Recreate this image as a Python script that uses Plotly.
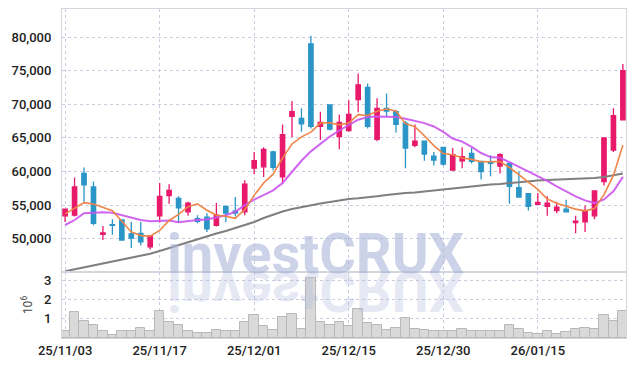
import plotly.graph_objects as go
from plotly.subplots import make_subplots

dates = ["25/11/03", "25/11/04", "25/11/05", "25/11/06", "25/11/07", "25/11/10", "25/11/11", "25/11/12", "25/11/13", "25/11/14",
         "25/11/17", "25/11/18", "25/11/19", "25/11/20", "25/11/21", "25/11/24", "25/11/25", "25/11/26", "25/11/27", "25/11/28",
         "25/12/01", "25/12/02", "25/12/03", "25/12/04", "25/12/05", "25/12/08", "25/12/09", "25/12/10", "25/12/11", "25/12/12",
         "25/12/15", "25/12/16", "25/12/17", "25/12/18", "25/12/19", "25/12/22", "25/12/23", "25/12/24", "25/12/26", "25/12/29",
         "25/12/30", "26/01/02", "26/01/05", "26/01/06", "26/01/07", "26/01/08", "26/01/09", "26/01/12", "26/01/13", "26/01/14",
         "26/01/15", "26/01/16", "26/01/19", "26/01/20", "26/01/21", "26/01/22", "26/01/23", "26/01/26", "26/01/27", "26/01/28"]

open_ = [53400, 53500, 59700, 57700, 50650, 52100, 52800, 50700, 50800, 48800,
         53400, 56400, 56000, 54000, 53000, 53200, 52000, 54800, 54100, 54000,
         60500, 60700, 62900, 59200, 68200, 67900, 79000, 66700, 69900, 65200,
         66100, 70700, 72500, 64800, 69400, 68900, 67200, 63900, 64500, 62300,
         63600, 60200, 61600, 62700, 61500, 61400, 60800, 61200, 57600, 56700,
         55100, 54800, 54200, 54400, 52400, 52500, 53400, 58500, 63200, 67700]
high = [54500, 59100, 60600, 58500, 51900, 52900, 52900, 52500, 52500, 50500,
        58300, 58100, 56300, 55500, 53500, 53800, 55300, 54800, 56200, 58700,
        62900, 63600, 63100, 67000, 70500, 69400, 80200, 68900, 70000, 68500,
        70600, 74600, 73100, 70900, 71600, 69100, 67500, 67000, 64600, 62900,
        63700, 63500, 63600, 63500, 61500, 62400, 62700, 61300, 60000, 56700,
        56800, 56300, 55500, 55800, 53400, 54900, 57200, 65000, 69400, 76000]
low = [52500, 53300, 55500, 52000, 49800, 50600, 49700, 48600, 49000, 48400,
       52400, 55200, 52400, 53400, 52300, 51000, 51800, 52500, 53300, 53500,
       59600, 59200, 60200, 58100, 65100, 65900, 66400, 64700, 66100, 63300,
       65900, 68800, 66400, 64500, 68100, 65800, 60500, 63600, 61600, 60900,
       60900, 60200, 60500, 61200, 58800, 59300, 59700, 55200, 56100, 54200,
       55000, 53400, 53800, 54000, 50800, 51000, 52900, 57900, 62900, 67600]
close = [54400, 57700, 58000, 52300, 50850, 52000, 49800, 50100, 49550, 50400,
         56300, 57200, 54600, 55300, 52600, 51450, 53500, 53800, 53800, 58100,
         61600, 63300, 60600, 65500, 68900, 67100, 66700, 67300, 66300, 67300,
         68500, 72900, 66700, 69400, 69000, 67000, 63500, 64500, 62600, 61700,
         61100, 62500, 62200, 61500, 60000, 61200, 62500, 57800, 56200, 54800,
         55400, 55300, 54700, 54000, 52600, 54100, 57100, 65000, 68300, 75000]

ma5 = [53700, 54500, 55360, 55160, 54650, 54170, 52590, 51010, 50460, 50370,
       51230, 52710, 53610, 54760, 55200, 54230, 53490, 53330, 53030, 54350,
       56450, 58300, 59600, 62000, 64100, 65150, 65850, 67200, 67260, 66940,
       67220, 68460, 68340, 68960, 69300, 69000, 67120, 66680, 65320, 63860,
       62680, 62480, 62020, 61800, 61460, 61480, 61480, 60600, 59540, 58500,
       57340, 55900, 55280, 54840, 54400, 54140, 54500, 56560, 59420, 63900]
ma10 = [52040, 52780, 53780, 53870, 53930, 53870, 53530, 53180, 52780, 52600,
        52700, 52700, 52450, 52650, 52780, 52850, 53130, 53500, 54000, 55000,
        55800, 56500, 57200, 58300, 60000, 61600, 63000, 64100, 65200, 66100,
        66850, 67700, 68100, 68200, 68150, 68120, 67850, 67550, 67200, 66700,
        65900, 64900, 64450, 63650, 62750, 62150, 62050, 61400, 60700, 60000,
        59350, 58600, 57800, 57000, 56300, 55700, 55300, 55850, 57050, 59200]
ma60 = [45150, 45430, 45710, 45990, 46280, 46560, 46830, 47130, 47460, 47770,
        48170, 48620, 49060, 49510, 49930, 50360, 50770, 51150, 51590, 52040,
        52490, 53080, 53600, 54050, 54420, 54720, 54940, 55240, 55460, 55680,
        55910, 56010, 56130, 56310, 56500, 56700, 56800, 56870, 57020, 57200,
        57400, 57540, 57690, 57840, 57920, 58060, 58140, 58290, 58440, 58510,
        58660, 58730, 58780, 58840, 58880, 58960, 59030, 59180, 59400, 59700]

volume_m = [0.39, 1.36, 0.91, 0.70, 0.39, 0.17, 0.39, 0.34, 0.53, 0.39,
            1.43, 0.82, 0.70, 0.39, 0.27, 0.27, 0.43, 0.34, 0.39, 0.84,
            1.22, 0.64, 0.43, 1.10, 1.26, 0.48, 3.14, 0.84, 0.70, 0.84,
            0.65, 1.52, 0.79, 0.69, 0.43, 0.53, 1.05, 0.48, 0.43, 0.34,
            0.34, 0.39, 0.48, 0.39, 0.39, 0.34, 0.34, 0.70, 0.48, 0.27,
            0.22, 0.34, 0.22, 0.29, 0.48, 0.53, 0.48, 1.22, 0.91, 1.43]
volume = [v * 1e6 for v in volume_m]

price_ticks = [50000, 55000, 60000, 65000, 70000, 75000, 80000]
vol_ticks = [1e6, 2e6, 3e6]
vol_ticktext = ["1", "2", "3"]
date_ticks = dates[::10]

UP = "#e8196b"
DOWN = "#2b95c7"
GRID = "#c9cde0"
FRAME = "#d3d6de"
FAMILY = "Roboto, Arial, sans-serif"
TICKFONT = dict(family=FAMILY, size=13, color="#222222", weight=500)

fig = make_subplots(rows=2, cols=1, shared_xaxes=True, vertical_spacing=0)

fig.add_trace(go.Candlestick(
    x=dates, open=open_, high=high, low=low, close=close,
    increasing=dict(line=dict(color=UP, width=1.3), fillcolor=UP),
    decreasing=dict(line=dict(color=DOWN, width=1.3), fillcolor=DOWN),
    whiskerwidth=0, showlegend=False), row=1, col=1)

fig.add_trace(go.Scatter(x=dates, y=ma60, mode="lines",
                         line=dict(color="#7f7f7f", width=2), showlegend=False), row=1, col=1)
fig.add_trace(go.Scatter(x=dates, y=ma10, mode="lines",
                         line=dict(color="#cc55ee", width=2), opacity=0.9, showlegend=False), row=1, col=1)
fig.add_trace(go.Scatter(x=dates, y=ma5, mode="lines",
                         line=dict(color="#ef8448", width=1.6), showlegend=False), row=1, col=1)

fig.add_trace(go.Bar(x=dates, y=volume, marker=dict(color="#d9d9d9", line=dict(color="#b8b8b8", width=1)),
                     showlegend=False), row=2, col=1)

xr = [-0.33, 59.33]
common_x = dict(type="category", range=xr, tickmode="array", tickvals=date_ticks,
                showgrid=True, gridcolor=GRID, griddash="dot", gridwidth=1, automargin=False,
                showline=True, linecolor=FRAME, mirror=True, zeroline=False, ticks="")
fig.update_layout(
    width=634, height=366,
    margin=dict(l=62, r=8, t=9, b=28),
    paper_bgcolor="white", plot_bgcolor="white",
    font=dict(family=FAMILY, size=13, color="#333333"), bargap=0, boxgap=0.34,
    xaxis=dict(common_x, showticklabels=False, rangeslider=dict(visible=False)),
    xaxis2=dict(common_x, showticklabels=True, ticktext=date_ticks, tickfont=TICKFONT),
    yaxis=dict(domain=[0.2006, 1], range=[45045, 84180], tickmode="array", tickvals=price_ticks,
               tickformat=",d", showgrid=True, gridcolor=GRID, griddash="dot", automargin=False,
               showline=True, linecolor=FRAME, mirror=True, zeroline=False, ticks="",
               ticklabelstandoff=7, tickfont=TICKFONT),
    yaxis2=dict(domain=[0, 0.2006], range=[0, 3.45e6], tickmode="array", tickvals=vol_ticks,
                ticktext=vol_ticktext, showgrid=True, gridcolor=GRID, griddash="dot", automargin=False,
                showline=True, linecolor=FRAME, mirror=True, zeroline=False, ticks="",
                ticklabelstandoff=7, tickfont=TICKFONT,
                title=dict(text="10<sup>6</sup>", standoff=8, font=dict(family=FAMILY, size=12, color="#444444"))),
)

fig.add_annotation(text="<b>investCRUX</b>", xref="paper", yref="paper", x=0.4486, y=0.256,
                   xanchor="center", yanchor="middle", showarrow=False,
                   font=dict(family=FAMILY, size=56, color="rgba(170,180,215,0.6)"))
fig.add_annotation(text="<b>investCRUX</b>", xref="paper", yref="paper", x=0.4486, y=0.143,
                   xanchor="center", yanchor="middle", showarrow=False,
                   font=dict(family=FAMILY, size=56, color="rgba(175,185,222,0.33)"))

post = """
document.body.style.margin = '0';
document.body.style.padding = '0';
var gd = document.getElementById('{plot_id}');
var t = gd.querySelector('g.annotation[data-index="1"] text');
if (t) { t.style.transformBox = 'fill-box'; t.style.transformOrigin = '50% 50%'; t.style.transform = 'scaleY(-1)'; }
"""

fig.write_html("out.html", post_script=post, config={"displayModeBar": False})
